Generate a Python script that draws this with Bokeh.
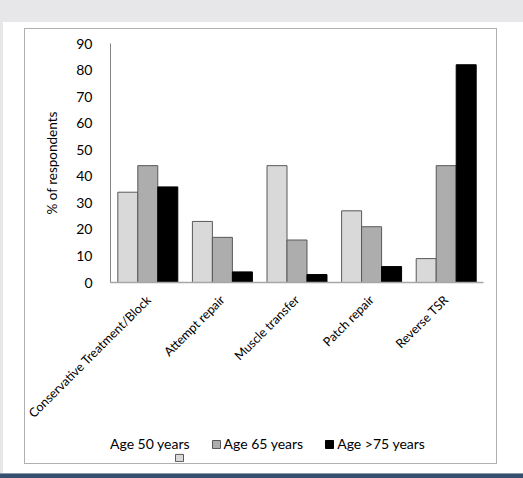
import math
from bokeh.plotting import figure
from bokeh.models import ColumnDataSource, FactorRange, Legend, LegendItem, Div
from bokeh.layouts import column, row
from bokeh.transform import dodge
from bokeh.embed import file_html
from bokeh.resources import INLINE

categories = ["Conservative Treatment/Block", "Attempt repair", "Muscle transfer", "Patch repair", "Reverse TSR"]
age50 = [34, 23, 44, 27, 9]
age65 = [44, 17, 16, 21, 44]
age75 = [36, 4, 3, 6, 82]
series_names = ["Age 50 years", "Age 65 years", "Age >75 years"]
y_ticks = [0, 10, 20, 30, 40, 50, 60, 70, 80, 90]

FONT = "Lato"
src = ColumnDataSource(dict(cat=categories, a50=age50, a65=age65, a75=age75))

p = figure(width=471, height=400, x_range=FactorRange(*categories, range_padding=0),
           y_range=(0, 90), output_backend="svg", toolbar_location=None,
           min_border_left=85, min_border_right=13, min_border_top=14, min_border_bottom=147)
p.outline_line_color = None
p.xgrid.grid_line_color = None
p.ygrid.grid_line_color = None
p.background_fill_color = "white"
p.border_fill_color = "white"

bw = 0.268
colors = ["#d9d9d9", "#adadad", "#000000"]
outlines = ["#595959", "#595959", "#000000"]
for col, off, c, lc in zip(["a50", "a65", "a75"], [-bw, 0, bw], colors, outlines):
    p.vbar(x=dodge("cat", off, range=p.x_range), top=col, width=bw, bottom=0,
           source=src, fill_color=c, line_color=lc, line_width=1)

p.yaxis.ticker = y_ticks
p.yaxis.axis_label = "% of respondents"
p.yaxis.axis_label_text_font = FONT
p.yaxis.axis_label_text_font_style = "normal"
p.yaxis.axis_label_text_font_size = "13.5px"
p.yaxis.axis_label_text_color = "#000000"
p.yaxis.axis_label_standoff = 13
p.yaxis.major_label_standoff = 12
p.yaxis.axis_line_color = "#868686"
for ax in (p.xaxis, p.yaxis):
    ax.major_tick_line_color = None
    ax.minor_tick_line_color = None
    ax.major_label_text_font = FONT
    ax.major_label_text_color = "#000000"
p.yaxis.major_label_text_font_size = "14px"
p.xaxis.major_label_text_font_size = "12.5px"
p.xaxis.major_label_orientation = math.pi / 4
p.xaxis.major_label_standoff = 9
p.xaxis.axis_line_color = "#a6a6a6"
p.xaxis.axis_line_width = 1.5

# legend strip (a separate small figure holding only the legend);
# its frame is aligned with the chart's frame by the column layout
lf = figure(width=471, height=34, x_range=(0, 1), y_range=(0, 1), output_backend="svg",
            toolbar_location=None, x_axis_location=None, y_axis_location=None, min_border=0)
lf.grid.visible = False
lf.outline_line_color = None
lf.border_fill_color = "white"
# key proxies: placed outside the visible range, only their legend keys show
key_rends = [lf.vbar(x=[-5], top=[-5], width=1, fill_color=c, line_color=lc, line_width=1)
             for c, lc in zip(colors, outlines)]
ghost = lf.vbar(x=[-5], top=[-5], width=1, fill_alpha=0, line_alpha=0)

common = dict(orientation="horizontal", margin=0, padding=0, border_line_color=None,
              background_fill_alpha=0, glyph_width=10, label_text_font=FONT,
              label_text_font_size="14px", label_text_color="#000000")
legend1 = Legend(items=[LegendItem(label=series_names[0], renderers=[ghost]),
                        LegendItem(label=series_names[1], renderers=[key_rends[1]]),
                        LegendItem(label=series_names[2], renderers=[key_rends[2]])],
                 location=(-13, 11), spacing=21, glyph_height=10, label_standoff=3,
                 label_height=17, **common)
legend2 = Legend(items=[LegendItem(label=" ", renderers=[key_rends[0]])],
                 location=(64, 1), glyph_height=9, label_standoff=0, label_height=9,
                 label_width=0, **common)
lf.add_layout(legend1)
lf.add_layout(legend2)

chart_box = column(p, lf, width=473, height=436, margin=(6, 0, 9, 21), spacing=0,
                   styles={"border": "1px solid #b0b0b0", "box-sizing": "border-box"})
top_strip = Div(width=523, height=22, margin=0, styles={"background-color": "#e7e7e9"})
left_strip = Div(width=3, height=451, margin=0, styles={"background-color": "#e7e7e9"})
bottom_band = Div(width=523, height=5, margin=0,
                  styles={"background-color": "#34506e", "border-top": "1px solid #8a9bb0",
                          "box-sizing": "border-box"})
middle = row(left_strip, chart_box, width=523, height=451, spacing=0)
page = column(top_strip, middle, bottom_band, width=523, height=478, spacing=0,
              styles={"background-color": "white"})

open("out.html", "w").write(file_html(page, INLINE))
